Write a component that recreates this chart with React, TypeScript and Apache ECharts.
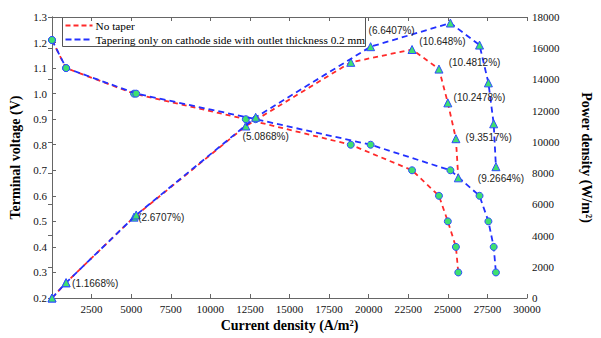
import React, { useEffect, useRef } from "react";
import * as echarts from "echarts";

// Terminal voltage levels shared by both cases (V)
const voltage = [1.21, 1.1, 1.0, 0.9, 0.8, 0.7, 0.6, 0.5, 0.4, 0.3];
// Current density at each voltage (A/m^2)
const currentNoTaper = [0, 883, 5180, 12240, 18870, 22740, 24440, 25000, 25510, 25660];
const currentTapered = [0, 893, 5318, 12863, 20123, 25161, 27002, 27562, 27896, 28038];
// Power density gain of the tapered design at each voltage
const gainLabels = ["", "(1.1668%)", "(2.6707%)", "(5.0868%)", "(6.6407%)", "(10.648%)", "(10.4812%)", "(10.2478%)", "(9.3517%)", "(9.2664%)"];
// Label offsets from the marker centre (px)
const gainOffsets: [number, number][] = [[0, 0], [29, 1], [25, 3], [10, 19], [21, -16], [-8, 18], [-5, 17], [-9, 15], [-5, 14], [5, 12]];

const RED = "#ff2a2a";
const BLUE = "#2230ff";
const FILL = "#3ee070";
const EDGE = "#2f4dff";
const SERIF = "'Liberation Serif', 'Times New Roman', serif";
const SANS = "'Liberation Sans', Arial, sans-serif";

export default function App() {
  const ref = useRef<HTMLDivElement>(null);

  useEffect(() => {
    if (!ref.current) return;
    const chart = echarts.init(ref.current, undefined, { renderer: "svg" });

    const vData = (cur: number[]) => cur.map((c, i) => [c, voltage[i]]);
    const pData = (cur: number[]) => cur.map((c, i) => [c, c * voltage[i]]);

    const tickLabel = { color: "#111", fontFamily: SERIF, fontSize: 11 };
    const axisLine = { lineStyle: { color: "#666", width: 1 } };
    const nameStyle = { fontFamily: SERIF, fontSize: 14, fontWeight: "bold" as const, color: "#000" };
    const tick = { inside: true, length: 4, lineStyle: { color: "#666" } };

    const markerStyle = { color: FILL, borderColor: EDGE, borderWidth: 1 };

    const taperedPower = pData(currentTapered).map((p, i) => ({
      value: p,
      label: {
        show: i > 0,
        position: "inside",
        offset: gainOffsets[i],
        formatter: () => gainLabels[i],
        fontFamily: SANS,
        fontSize: 10,
        color: "#222",
      },
    }));

    chart.setOption({
      animation: false,
      backgroundColor: "#fff",
      grid: { left: 50, right: 65, top: 17, bottom: 40 },
      xAxis: [
        {
          type: "value",
          min: 0,
          max: 30000,
          interval: 2500,
          name: "Current density (A/m²)",
          nameLocation: "middle",
          nameGap: 19,
          nameTextStyle: nameStyle,
          axisLine,
          axisTick: tick,
          axisLabel: { ...tickLabel, margin: 5, formatter: (v: number) => (v === 0 ? "" : String(v)) },
          splitLine: { show: false },
        },
        {
          type: "value",
          position: "top",
          min: 0,
          max: 30000,
          interval: 2500,
          axisLine,
          axisTick: tick,
          axisLabel: { show: false },
          splitLine: { show: false },
        },
      ],
      yAxis: [
        {
          type: "value",
          min: 0.2,
          max: 1.3,
          interval: 0.1,
          name: "Terminal voltage (V)",
          nameLocation: "middle",
          nameRotate: 90,
          nameGap: 30,
          nameTextStyle: nameStyle,
          axisLine: { show: true, ...axisLine },
          axisTick: tick,
          axisLabel: { ...tickLabel, margin: 5, formatter: (v: number) => v.toFixed(1) },
          splitLine: { show: false },
        },
        {
          type: "value",
          position: "right",
          min: 0,
          max: 18000,
          interval: 2000,
          name: "Power density (W/m²)",
          nameLocation: "middle",
          nameRotate: -90,
          nameGap: 52,
          nameTextStyle: nameStyle,
          axisLine: { show: true, ...axisLine },
          axisTick: tick,
          axisLabel: { ...tickLabel, margin: 5, formatter: (v: number) => String(v) },
          splitLine: { show: false },
        },
      ],
      series: [
        {
          name: "No taper",
          type: "line",
          data: vData(currentNoTaper),
          symbol: "circle",
          symbolSize: 7,
          itemStyle: markerStyle,
          lineStyle: { color: RED, width: 1.8, type: [5, 4] },
          z: 2,
        },
        {
          name: "Tapering only on cathode side with outlet thickness 0.2 mm",
          type: "line",
          data: vData(currentTapered),
          symbol: "circle",
          symbolSize: 7,
          itemStyle: markerStyle,
          lineStyle: { color: BLUE, width: 1.8, type: [6, 4] },
          z: 3,
        },
        {
          name: "No taper",
          type: "line",
          yAxisIndex: 1,
          data: pData(currentNoTaper),
          symbol: "triangle",
          symbolSize: 8,
          itemStyle: markerStyle,
          lineStyle: { color: RED, width: 1.8, type: [5, 4] },
          z: 4,
        },
        {
          name: "Tapering only on cathode side with outlet thickness 0.2 mm",
          type: "line",
          yAxisIndex: 1,
          data: taperedPower,
          symbol: "triangle",
          symbolSize: 8,
          itemStyle: markerStyle,
          lineStyle: { color: BLUE, width: 1.8, type: [6, 4] },
          z: 5,
        },
      ],
      graphic: [
        {
          type: "group",
          left: 62,
          top: 17,
          z: 100,
          children: [
            { type: "rect", shape: { x: 0, y: 0, width: 303, height: 29 }, style: { fill: "#fff", stroke: "#555", lineWidth: 1 } },
            { type: "line", shape: { x1: 3, y1: 8, x2: 30, y2: 8 }, style: { stroke: RED, lineWidth: 1.8, lineDash: [5, 3] } },
            { type: "text", x: 33, y: 8, style: { text: "No taper", fontFamily: SERIF, fontSize: 11.3, fill: "#000", verticalAlign: "middle" } },
            { type: "line", shape: { x1: 3, y1: 22, x2: 30, y2: 22 }, style: { stroke: BLUE, lineWidth: 1.8, lineDash: [6, 3] } },
            { type: "text", x: 33, y: 22, style: { text: "Tapering only on cathode side with outlet thickness 0.2 mm", fontFamily: SERIF, fontSize: 11.3, fill: "#000", verticalAlign: "middle" } },
          ],
        },
      ],
    });

    return () => chart.dispose();
  }, []);

  return <div ref={ref} style={{ position: "fixed", left: 0, top: 0, width: 601, height: 338 }} />;
}
